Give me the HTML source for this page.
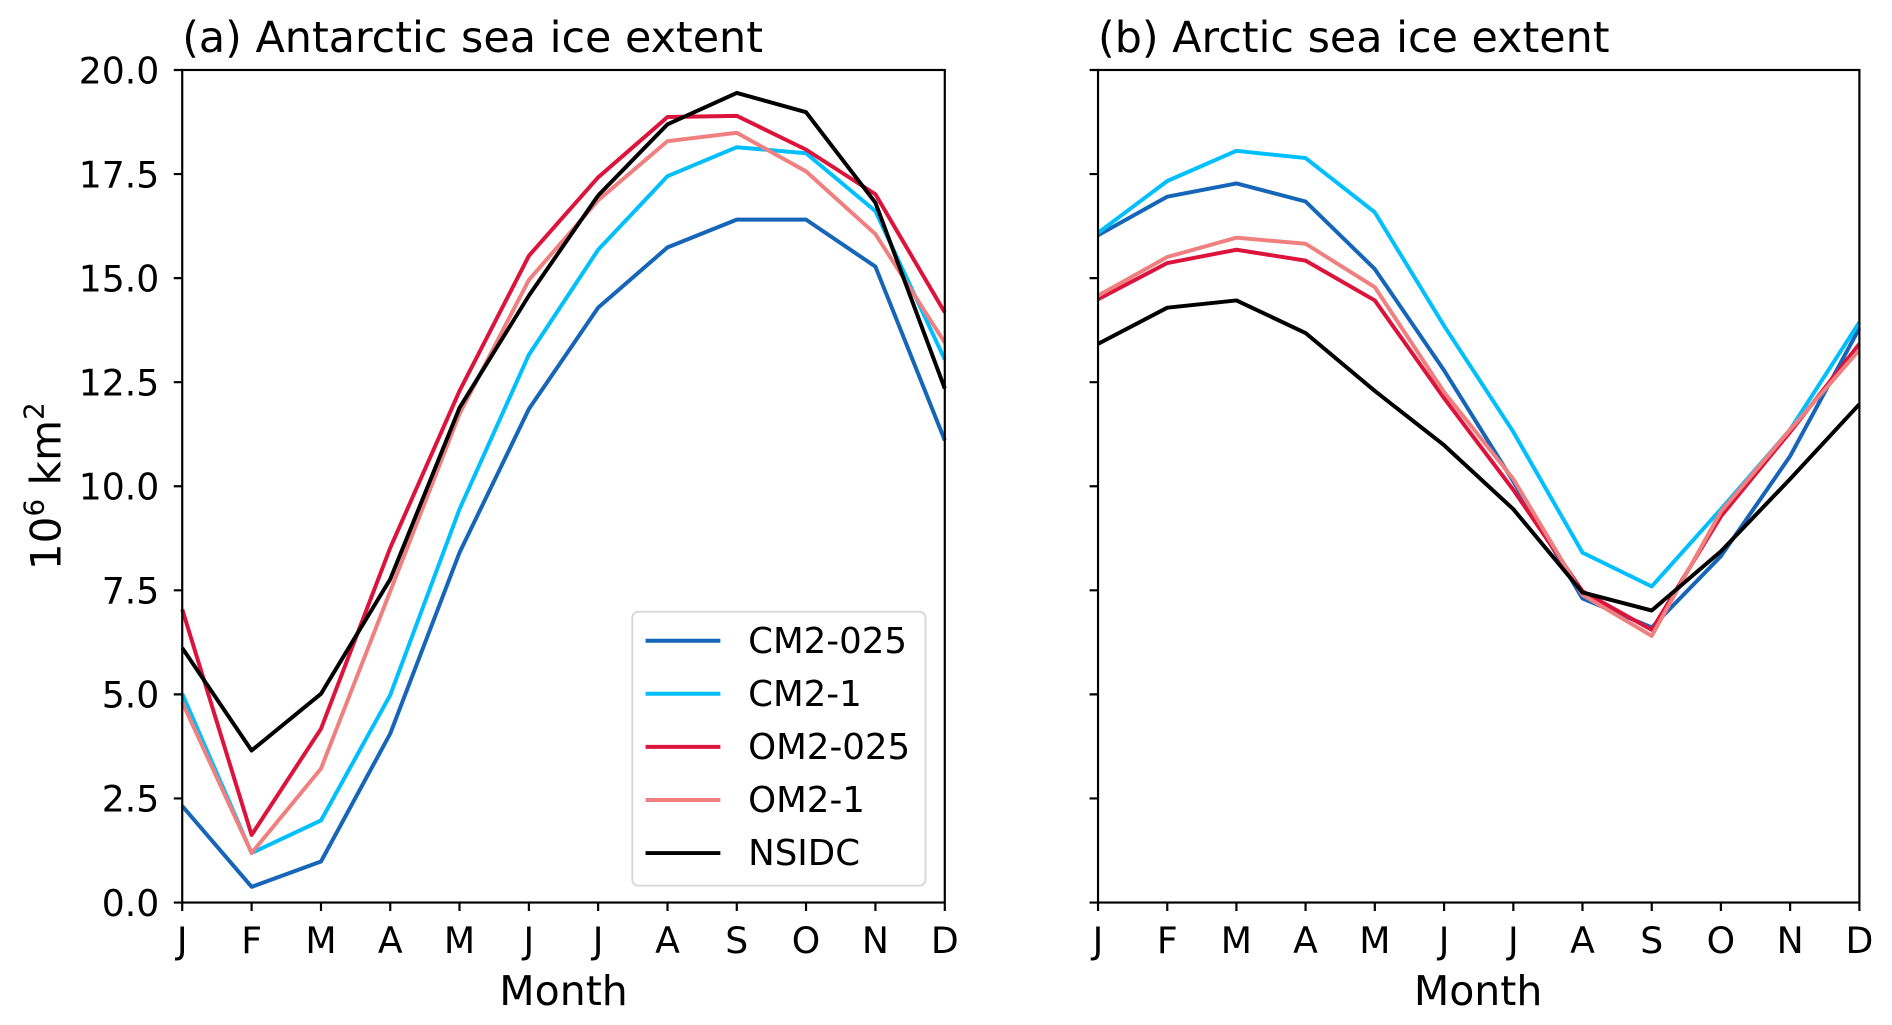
<!DOCTYPE html>
<html><head><meta charset="utf-8"><style>html,body{margin:0;padding:0;background:#fff}svg{display:block}</style></head>
<body>
<svg width="1892" height="1025" viewBox="0 0 1568 849.5" xmlns="http://www.w3.org/2000/svg" font-family="DejaVu Sans, Liberation Sans, sans-serif">
<rect x="0" y="0" width="1568" height="850" fill="#fff"/>
<g fill="none" stroke-width="3.3" stroke-linejoin="round">
<polyline stroke="#1565b8" points="151,668 208.5,735 266,714 323.4,608 380.8,458 438.3,339 495.7,255 553.2,205 610.6,182 668,182 725.5,221 783,365"/>
<polyline stroke="#00bfff" points="151,575 208.5,707 266,680 323.4,576 380.8,422 438.3,294 495.7,207 553.2,146 610.6,122 668,127 725.5,175 783,298"/>
<polyline stroke="#dc143c" points="151,505 208.5,692 266,604 323.4,454 380.8,324 438.3,212 495.7,147 553.2,97 610.6,96 668,124 725.5,161 783,259"/>
<polyline stroke="#f08080" points="151,582 208.5,707 266,637 323.4,490 380.8,343 438.3,232 495.7,166 553.2,117 610.6,110 668,142 725.5,194 783,284"/>
<polyline stroke="#000" points="151,537 208.5,622 266,575 323.4,480 380.8,338 438.3,245 495.7,162 553.2,103 610.6,77 668,93 725.5,168 783,322"/>
<polyline stroke="#1565b8" points="910,195 967.4,163 1024.7,152 1082,167 1139.4,223 1196.8,307 1254.2,399 1311.5,496 1368.9,520 1426.2,461 1483.6,378 1541,272"/>
<polyline stroke="#00bfff" points="910,193 967.4,150 1024.7,125 1082,131 1139.4,176 1196.8,270 1254.2,358 1311.5,458 1368.9,486 1426.2,422 1483.6,356 1541,267"/>
<polyline stroke="#dc143c" points="910,248 967.4,218 1024.7,207 1082,216 1139.4,249 1196.8,330 1254.2,406 1311.5,490 1368.9,522 1426.2,428 1483.6,358 1541,285"/>
<polyline stroke="#f08080" points="910,245 967.4,213 1024.7,197 1082,202 1139.4,238 1196.8,325 1254.2,397 1311.5,493 1368.9,527 1426.2,424 1483.6,356 1541,290"/>
<polyline stroke="#000" points="910,285 967.4,255 1024.7,249 1082,276 1139.4,324 1196.8,369 1254.2,422 1311.5,491 1368.9,506 1426.2,457 1483.6,397 1541,335"/>
</g>
<g fill="none" stroke="#000" stroke-width="1.8">
<rect x="151" y="58" width="632" height="690"/>
<rect x="910" y="58" width="631" height="690"/>
<path d="M151,748v7M208.5,748v7M266,748v7M323.4,748v7M380.8,748v7M438.3,748v7M495.7,748v7M553.2,748v7M610.6,748v7M668,748v7M725.5,748v7M783,748v7"/>
<path d="M910,748v7M967.4,748v7M1024.7,748v7M1082,748v7M1139.4,748v7M1196.8,748v7M1254.2,748v7M1311.5,748v7M1368.9,748v7M1426.2,748v7M1483.6,748v7M1541,748v7"/>
<path d="M151,748h-7M151,661.75h-7M151,575.5h-7M151,489.25h-7M151,403h-7M151,316.75h-7M151,230.5h-7M151,144.25h-7M151,58h-7"/>
<path d="M910,748h-7M910,661.75h-7M910,575.5h-7M910,489.25h-7M910,403h-7M910,316.75h-7M910,230.5h-7M910,144.25h-7M910,58h-7"/>
</g>
<g font-size="30" text-anchor="end" fill="#000">
<text x="132" y="759">0.0</text><text x="132" y="672.75">2.5</text><text x="132" y="586.5">5.0</text><text x="132" y="500.25">7.5</text><text x="132" y="414">10.0</text><text x="132" y="327.75">12.5</text><text x="132" y="241.5">15.0</text><text x="132" y="155.25">17.5</text><text x="132" y="69">20.0</text>
</g>
<g font-size="30" text-anchor="middle" fill="#000">
<text x="151" y="790">J</text><text x="208.5" y="790">F</text><text x="266" y="790">M</text><text x="323.4" y="790">A</text><text x="380.8" y="790">M</text><text x="438.3" y="790">J</text><text x="495.7" y="790">J</text><text x="553.2" y="790">A</text><text x="610.6" y="790">S</text><text x="668" y="790">O</text><text x="725.5" y="790">N</text><text x="783" y="790">D</text>
<text x="910" y="790">J</text><text x="967.4" y="790">F</text><text x="1024.7" y="790">M</text><text x="1082" y="790">A</text><text x="1139.4" y="790">M</text><text x="1196.8" y="790">J</text><text x="1254.2" y="790">J</text><text x="1311.5" y="790">A</text><text x="1368.9" y="790">S</text><text x="1426.2" y="790">O</text><text x="1483.6" y="790">N</text><text x="1541" y="790">D</text>
<text x="467" y="833" font-size="34">Month</text>
<text x="1225" y="833" font-size="34">Month</text>
<text transform="translate(50,403) rotate(-90)" font-size="35">10<tspan font-size="23" dy="-14">6</tspan><tspan dy="14"> km</tspan><tspan font-size="23" dy="-14">2</tspan></text>
</g>
<text x="151" y="43" font-size="35.5">(a) Antarctic sea ice extent</text>
<text x="910" y="43" font-size="35.5">(b) Arctic sea ice extent</text>
<rect x="524" y="507" width="243" height="227" rx="5" fill="#fff" fill-opacity="0.85" stroke="#d6d6d6" stroke-width="1.5"/>
<g stroke-width="3.3">
<line x1="535" y1="531" x2="597" y2="531" stroke="#1565b8"/>
<line x1="535" y1="575" x2="597" y2="575" stroke="#00bfff"/>
<line x1="535" y1="619" x2="597" y2="619" stroke="#dc143c"/>
<line x1="535" y1="663" x2="597" y2="663" stroke="#f08080"/>
<line x1="535" y1="707" x2="597" y2="707" stroke="#000"/>
</g>
<g font-size="29.5" fill="#000">
<text x="620" y="541">CM2-025</text><text x="620" y="585">CM2-1</text><text x="620" y="629">OM2-025</text><text x="620" y="673">OM2-1</text><text x="620" y="717">NSIDC</text>
</g>
</svg>
</body></html>
